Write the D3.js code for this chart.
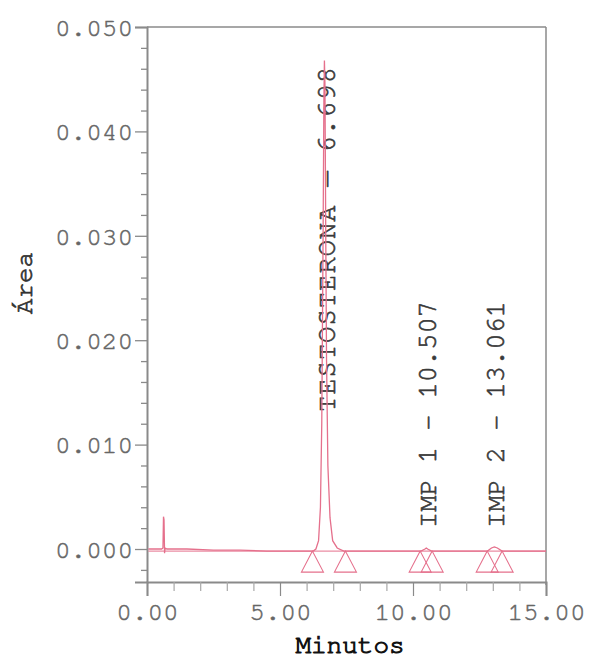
<!DOCTYPE html>
<html>
<head>
<meta charset="utf-8">
<script src="https://cdn.jsdelivr.net/npm/d3@7"></script>
<style>
  html, body { margin: 0; padding: 0; background: #ffffff; }
  svg { display: block; }
  text { font-family: "Nimbus Mono PS", "FreeMono", "Courier New", "Liberation Mono", monospace; }
</style>
</head>
<body>
<svg id="chart" width="592" height="660"></svg>
<script>
// ---- data ----
const timeMin = [0.05, 0.55, 0.60, 0.62, 0.64, 0.66, 0.68, 0.75, 1.5, 2.5, 3.5, 4.5, 5.5, 6.0, 6.25,
  6.35, 6.45, 6.52, 6.57, 6.62, 6.65, 6.67, 6.69, 6.72, 6.75, 6.80, 6.88, 6.98, 7.15, 7.40,
  8.0, 9.0, 10.0, 10.3, 10.45, 10.5, 10.55, 10.7, 11.5, 12.5, 12.8, 12.95, 13.06, 13.17, 13.35, 14.0, 15.0];
const areaValues = [0.0000, 0.0000, 0.0001, 0.0031, 0.0028, -0.0004, 0.0001, 0.0000, 0.0000, -0.0001, -0.0001, -0.0002, -0.0002, -0.0002, -0.0002,
  0.0000, 0.0008, 0.0040, 0.0120, 0.0300, 0.0430, 0.0468, 0.0445, 0.0300, 0.0180, 0.0080, 0.0030, 0.0008, 0.0001, -0.0002,
  -0.0002, -0.0002, -0.0002, -0.0002, 0.0000, 0.0001, 0.0000, -0.0002, -0.0002, -0.0002, -0.0002, 0.0001, 0.0002, 0.0001, -0.0002, -0.0002, -0.0002];

const peakNames = ["TESTOSTERONA", "IMP 1", "IMP 2"];
const peakTimes = [6.698, 10.507, 13.061];
const peakTimeLabels = ["6.698", "10.507", "13.061"];
const peakSeparators = [" — ", " - ", " - "];

const markerTimes = [6.22, 7.46, 10.27, 10.72, 12.79, 13.35];

const xMajorTicks = [0, 5, 10, 15];
const xTickLabels = ["0.00", "5.00", "10.00", "15.00"];
const xMinorTicks = [1, 2, 3, 4, 6, 7, 8, 9, 11, 12, 13, 14];
const yMajorTicks = [0.000, 0.010, 0.020, 0.030, 0.040, 0.050];
const yTickLabels = ["0.000", "0.010", "0.020", "0.030", "0.040", "0.050"];
const yMinorTicks = [-0.002, 0.002, 0.004, 0.006, 0.008, 0.012, 0.014, 0.016, 0.018, 0.022, 0.024, 0.026, 0.028,
  0.032, 0.034, 0.036, 0.038, 0.042, 0.044, 0.046, 0.048];

const xTitle = "Minutos";
const yTitle = "Área";

// ---- layout ----
const mLeft = 147, mRight = 546, mTop = 27, mBottom = 582;
const x = d3.scaleLinear().domain([0, 15]).range([mLeft, mRight]);
const y = d3.scaleLinear().domain([-0.00316, 0.050]).range([mBottom, mTop]);

const svg = d3.select("#chart");
const axisColor = "#8a8a8a";
const traceColor = "#e5708c";
const tickTextColor = "#666";
const fontStack = '"Nimbus Mono PS", "FreeMono", "Courier New", "Liberation Mono", monospace';

// frame: top and right
svg.append("line").attr("x1", mLeft).attr("x2", mRight).attr("y1", mTop).attr("y2", mTop)
  .attr("stroke", axisColor).attr("stroke-width", 1.3);
svg.append("line").attr("x1", mRight).attr("x2", mRight).attr("y1", mTop).attr("y2", mBottom + 3)
  .attr("stroke", axisColor).attr("stroke-width", 1.5);

// Y axis
const yAxis = d3.axisLeft(y).tickValues(yMajorTicks).tickSize(12).tickPadding(2)
  .tickFormat((d, i) => yTickLabels[i]);
const gy = svg.append("g").attr("transform", `translate(${mLeft},0)`).call(yAxis);
gy.select(".domain").attr("stroke", axisColor).attr("stroke-width", 2);
gy.selectAll(".tick line").attr("stroke", axisColor).attr("stroke-width", 1.3);
gy.selectAll(".tick text").attr("fill", tickTextColor).attr("font-size", 26)
  .attr("font-family", fontStack).attr("stroke", tickTextColor).attr("stroke-width", 0.5);
const gyMinor = svg.append("g").attr("transform", `translate(${mLeft},0)`)
  .call(d3.axisLeft(y).tickValues(yMinorTicks).tickSize(6).tickFormat(""));
gyMinor.select(".domain").remove();
gyMinor.selectAll(".tick line").attr("stroke", axisColor).attr("stroke-width", 1.3);

// X axis
const xAxis = d3.axisBottom(x).tickValues(xMajorTicks).tickSize(14).tickPadding(6)
  .tickFormat((d, i) => xTickLabels[i]);
const gx = svg.append("g").attr("transform", `translate(0,${mBottom})`).call(xAxis);
gx.select(".domain").attr("stroke", axisColor).attr("stroke-width", 2);
gx.selectAll(".tick line").attr("stroke", axisColor).attr("stroke-width", 1.2);
gx.selectAll(".tick text").attr("fill", tickTextColor).attr("font-size", 26)
  .attr("font-family", fontStack).attr("stroke", tickTextColor).attr("stroke-width", 0.5);
const gxMinor = svg.append("g").attr("transform", `translate(0,${mBottom})`)
  .call(d3.axisBottom(x).tickValues(xMinorTicks).tickSize(9).tickFormat(""));
gxMinor.select(".domain").remove();
gxMinor.selectAll(".tick line").attr("stroke", "#a8a8a8").attr("stroke-width", 1.2);

// axis titles
svg.append("text").attr("x", 350).attr("y", 653).attr("text-anchor", "middle")
  .attr("font-size", 26).attr("fill", "#111").attr("stroke", "#111").attr("stroke-width", 1)
  .text(xTitle);
svg.append("text").attr("transform", "translate(32,283) rotate(-90)").attr("text-anchor", "middle")
  .attr("font-size", 26).attr("fill", "#333").attr("stroke", "#333").attr("stroke-width", 0.7)
  .text(yTitle);

// peak labels (drawn before trace so the line passes over)
const labelBottoms = [412, 528, 528];
const labelSpacing = [1.1, 0, 0];
svg.append("g").selectAll("text").data(peakNames).join("text")
  .attr("transform", (d, i) => `translate(${x(peakTimes[i])},${labelBottoms[i]}) rotate(-90)`)
  .attr("dy", "0.36em")
  .attr("font-size", 27)
  .attr("letter-spacing", (d, i) => labelSpacing[i])
  .attr("fill", "#3a3a3a").attr("stroke", "#3a3a3a").attr("stroke-width", 0.6)
  .text((d, i) => `${d}${peakSeparators[i]}${peakTimeLabels[i]}`);

// baseline markers (triangles)
const triW = 11, triH = 21;
svg.append("g").selectAll("path").data(markerTimes).join("path")
  .attr("d", t => {
    const cx = x(t), cy = y(-0.0002);
    return `M${cx},${cy}L${cx - triW},${cy + triH}L${cx + triW},${cy + triH}Z`;
  })
  .attr("fill", "none").attr("stroke", traceColor).attr("stroke-width", 1.1);

// baseline reference line
svg.append("line").attr("x1", x(0.05)).attr("x2", mRight).attr("y1", y(-0.0002)).attr("y2", y(-0.0002))
  .attr("stroke", traceColor).attr("stroke-width", 1);

// trace
const line = d3.line().x(d => x(d[0])).y(d => y(d[1]));
svg.append("path").datum(timeMin.map((t, i) => [t, areaValues[i]]))
  .attr("d", line).attr("fill", "none").attr("stroke", traceColor).attr("stroke-width", 1.3);
</script>
</body>
</html>
